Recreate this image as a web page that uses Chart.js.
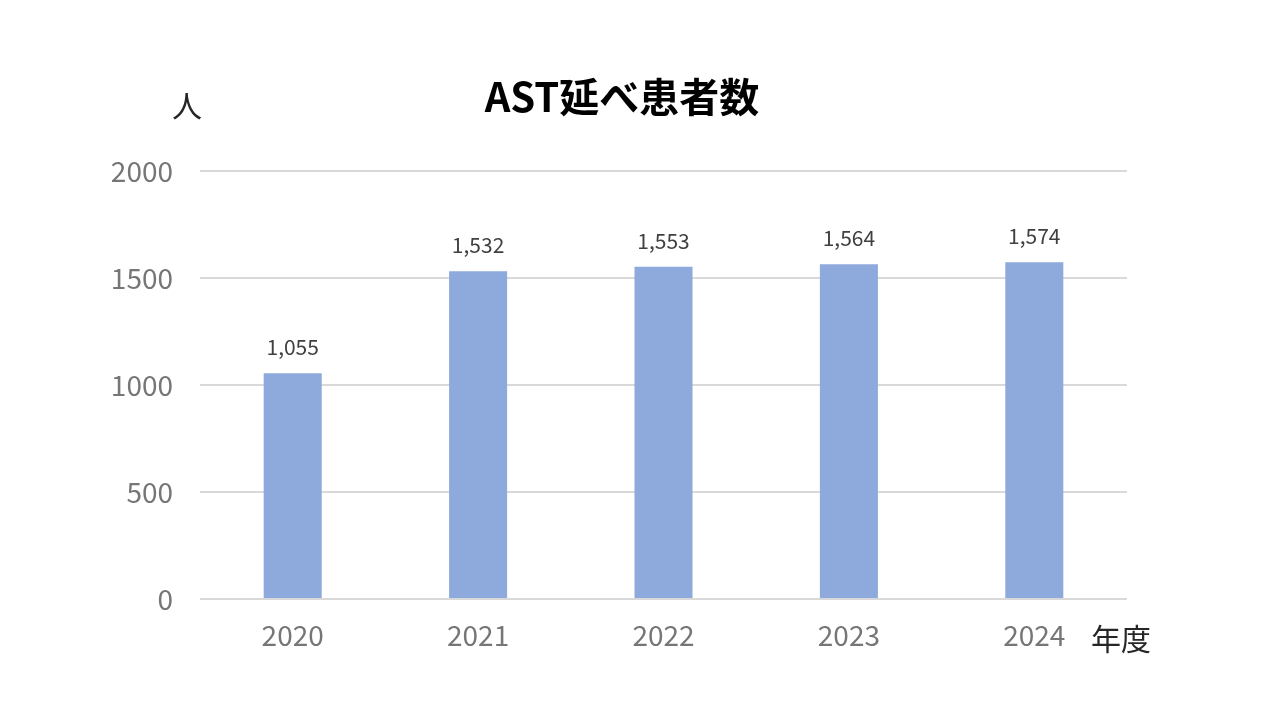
<!DOCTYPE html>
<html><head><meta charset="utf-8">
<script src="https://cdn.jsdelivr.net/npm/chart.js@4/dist/chart.umd.min.js"></script>
<style>html,body{margin:0;padding:0;background:#fff;}#wrap{width:1280px;height:720px;}</style>
</head><body><div id="wrap"><canvas id="c" width="1280" height="720"></canvas></div>
<script>
const categories = ['2020','2021','2022','2023','2024'];
const values = [1055, 1532, 1553, 1564, 1574];
const yTicks = [0, 500, 1000, 1500, 2000];
const titleText = 'AST延べ患者数';
const yUnit = '人';
const xUnit = '年度';
const FONT = '"Noto Sans CJK JP", "Noto Sans", sans-serif';

const extras = {
  id: 'extras',
  afterDatasetsDraw(chart) {
    const ctx = chart.ctx;
    const meta = chart.getDatasetMeta(0);
    ctx.save();
    ctx.fillStyle = '#404040';
    ctx.font = '21px ' + FONT;
    ctx.textAlign = 'center';
    ctx.textBaseline = 'middle';
    meta.data.forEach((bar, i) => {
      ctx.fillText(values[i].toLocaleString('en-US'), bar.x, bar.y - 26);
    });
    ctx.fillStyle = '#000';
    ctx.font = 'bold 40px ' + FONT;
    ctx.fillText(titleText, 622, 97);
    ctx.fillStyle = '#262626';
    ctx.font = '30px ' + FONT;
    ctx.fillText(yUnit, 187, 106);
    ctx.fillText(xUnit, 1121, 639);
    ctx.restore();
  }
};

new Chart(document.getElementById('c'), {
  type: 'bar',
  data: {
    labels: categories,
    datasets: [{ data: values, backgroundColor: '#8EA9DB', categoryPercentage: 1, barPercentage: 0.313 }]
  },
  options: {
    responsive: false,
    animation: false,
    devicePixelRatio: 1,
    layout: { padding: { top: 171, right: 153, left: 0, bottom: 0 } },
    plugins: { legend: { display: false }, tooltip: { enabled: false } },
    scales: {
      x: {
        grid: { display: false, drawTicks: false },
        border: { display: false },
        ticks: { color: '#767676', font: { family: FONT, size: 28 }, padding: 20 },
        afterFit(s) { s.height = 121; }
      },
      y: {
        min: 0, max: 2000,
        afterBuildTicks(s) { s.ticks = yTicks.map(v => ({ value: v })); },
        grid: { color: '#d9d9d9', lineWidth: 2, drawTicks: false },
        border: { display: false },
        ticks: { color: '#767676', font: { family: FONT, size: 28 }, padding: 27, callback: v => String(v) },
        afterFit(s) { s.width = 200; }
      }
    }
  },
  plugins: [extras]
});
</script></body></html>
